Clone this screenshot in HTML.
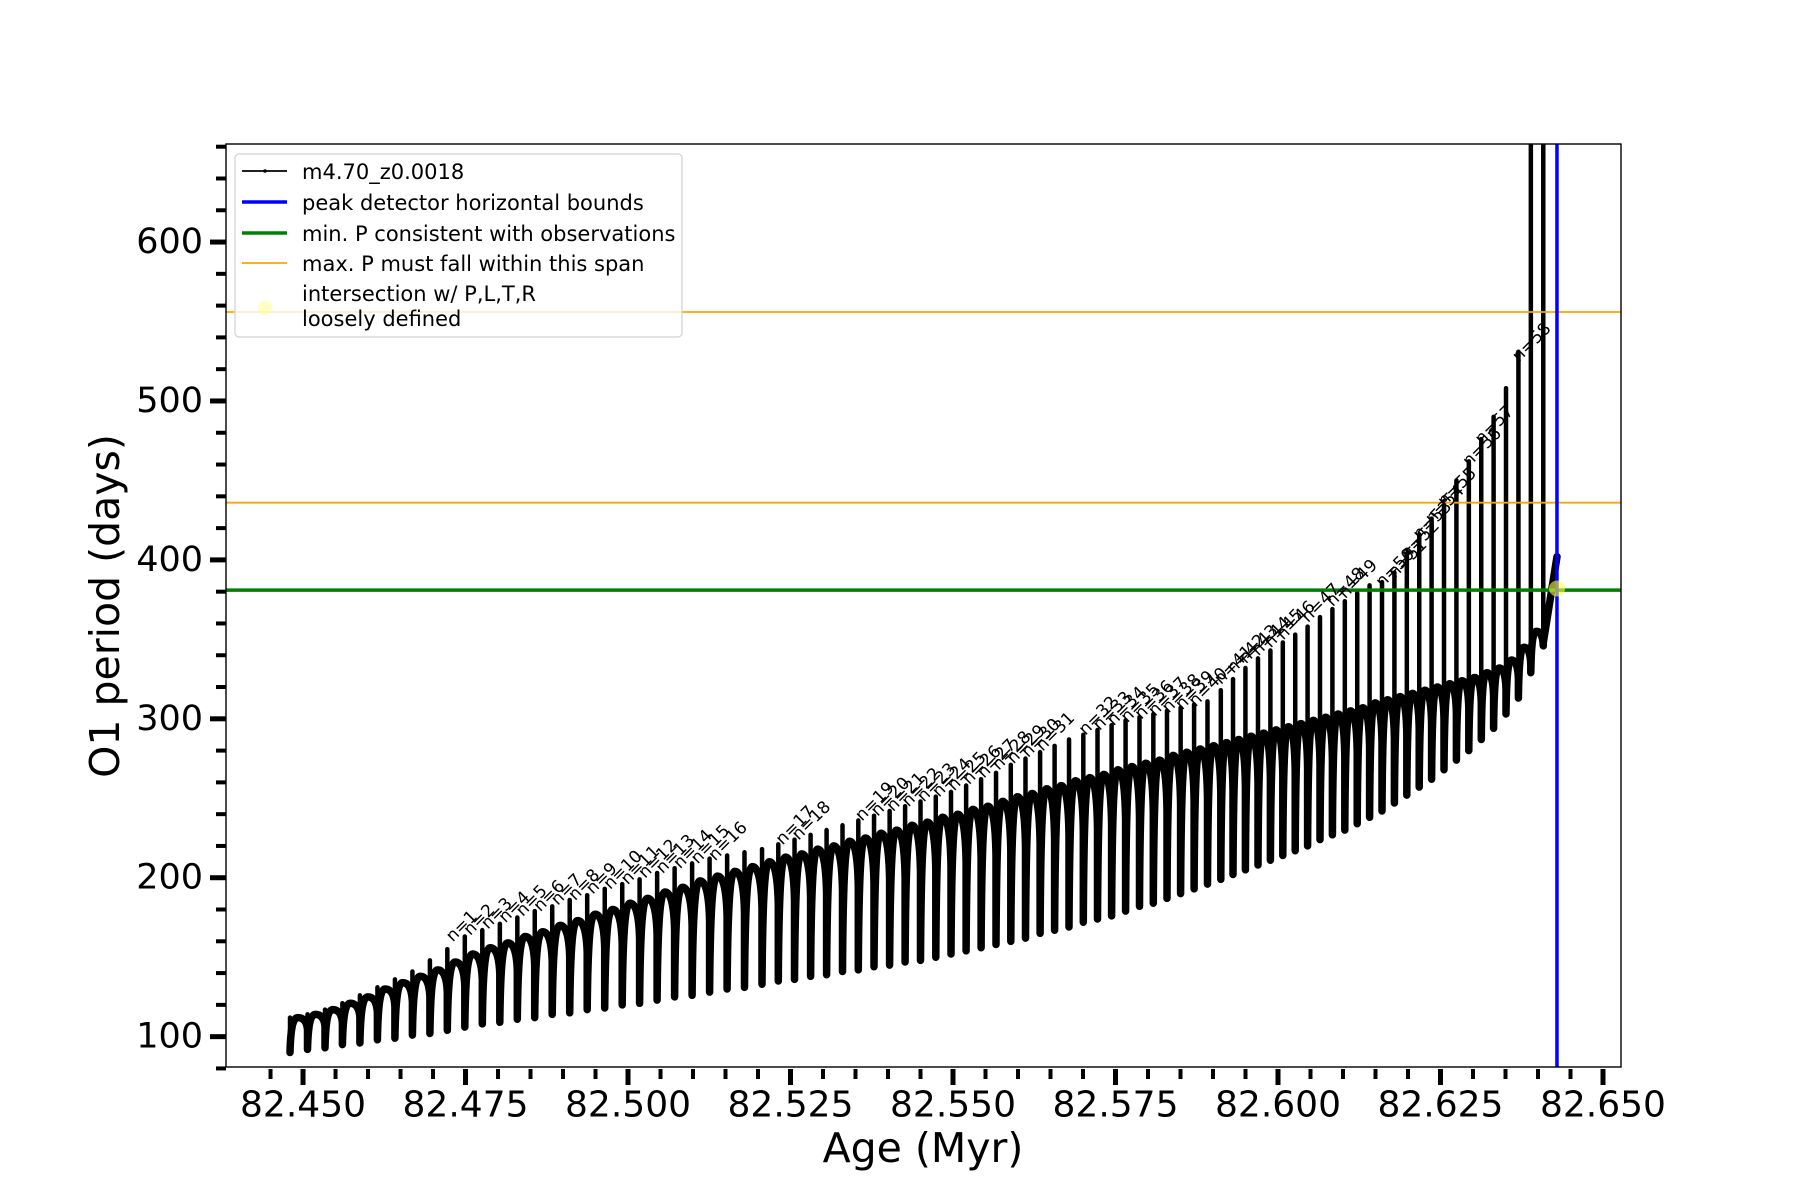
<!DOCTYPE html>
<html><head><meta charset="utf-8"><style>
html,body{margin:0;padding:0;background:#fff;}
svg{display:block;font-family:"DejaVu Sans","Liberation Sans",sans-serif;}
</style></head><body>
<svg id="fig" width="1800" height="1200" viewBox="0 0 1800 1200">
<defs><clipPath id="axclip"><rect x="226" y="144" width="1395" height="923"/></clipPath></defs>
<g id="plot" clip-path="url(#axclip)"></g>
<rect x="226" y="144" width="1395" height="923" fill="none" stroke="#000" stroke-width="1.4"/>
<g id="ticks"></g>
<text x="105" y="606" font-size="41" text-anchor="middle" dominant-baseline="central" transform="rotate(-90 105 606)">O1 period (days)</text>
<text x="923" y="1148" font-size="41" text-anchor="middle" dominant-baseline="central">Age (Myr)</text>
<g>
<rect x="235" y="154" width="447" height="183" rx="4" fill="rgba(255,255,255,0.8)" stroke="#d0d0d0" stroke-width="1.2"/>
<line x1="242" y1="171" x2="287" y2="171" stroke="#000" stroke-width="1.8"/>
<circle cx="265" cy="171" r="1.8" fill="#000"/>
<text x="302" y="172" font-size="21" dominant-baseline="central">m4.70_z0.0018</text>
<line x1="242" y1="202" x2="287" y2="202" stroke="#0000ff" stroke-width="3.5"/>
<text x="302" y="203" font-size="21" dominant-baseline="central">peak detector horizontal bounds</text>
<line x1="242" y1="233" x2="287" y2="233" stroke="#008000" stroke-width="3.5"/>
<text x="302" y="234" font-size="21" dominant-baseline="central">min. P consistent with observations</text>
<line x1="242" y1="263" x2="287" y2="263" stroke="#ffa500" stroke-width="1.8"/>
<text x="302" y="264" font-size="21" dominant-baseline="central">max. P must fall within this span</text>
<circle cx="265" cy="308" r="7" fill="#ffff80" opacity="0.5"/>
<text x="302" y="294" font-size="21" dominant-baseline="central">intersection w/ P,L,T,R</text>
<text x="302" y="319" font-size="21" dominant-baseline="central">loosely defined</text>
</g>
</svg>
<script>
const ages = [82.44800,82.45069,82.45338,82.45606,82.45875,82.46145,82.46414,82.46683,82.46952,82.47220,82.47489,82.47758,82.48028,82.48297,82.48565,82.48834,82.49103,82.49372,82.49642,82.49911,82.50178,82.50448,82.50717,82.50986,82.51255,82.51525,82.51792,82.52062,82.52312,82.52562,82.52809,82.53055,82.53300,82.53543,82.53785,82.54025,82.54263,82.54500,82.54735,82.54969,82.55202,82.55432,82.55662,82.55889,82.56115,82.56340,82.56563,82.56785,82.57005,82.57223,82.57440,82.57655,82.57869,82.58082,82.58292,82.58502,82.58709,82.58915,82.59120,82.59308,82.59499,82.59692,82.59883,82.60074,82.60265,82.60455,82.60646,82.60837,82.61028,82.61219,82.61409,82.61600,82.61791,82.61982,82.62173,82.62363,82.62554,82.62745,82.62936,82.63127,82.63317,82.63508,82.63699,82.63890,82.64081];
const lows = [90,92,93,95,96,98,99,101,102,104,106,108,109,111,112,114,115,117,118,120,121,123,125,126,128,130,131,133,135,136,138,139,141,142,144,145,147,148,150,152,154,156,158,160,162,165,167,169,172,174,176,179,182,184,187,190,193,196,199,202,205,208,211,214,217,220,224,227,230,234,238,242,247,252,257,262,268,274,280,287,294,303,313,329,348];
const tops = [112,114,117,121,125,130,134,138,142,147,152,156,159,163,166,170,173,177,180,184,187,191,194,198,201,204,207,210,213,215,218,220,223,225,228,230,233,235,238,240,243,245,248,251,253,256,258,261,263,265,268,270,272,274,277,279,281,283,285,287,289,291,293,295,297,299,301,303,305,307,310,312,314,316,318,320,322,324,326,329,332,337,345,355,362];
const highs = [112,114,117,121,126,131,136,141,148,155,163,167,171,175,179,182,186,189,193,196,199,203,206,209,212,214,216,218,221,224,227,230,233,236,239,242,245,248,251,254,258,262,266,271,275,279,283,287,290,293,296,299,301,303,305,307,309,311,318,325,332,338,343,348,353,358,364,369,374,379,384,386,392,404,416,426,437,450,462,476,490,508,531,700,700];
const finalAge = 82.64292;
const finalP = 402;
const labelN = [1,2,3,4,5,6,7,8,9,10,11,12,13,14,15,16,17,18,19,20,21,22,23,24,25,26,27,28,29,30,31,32,33,34,35,36,37,38,39,40,41,42,43,44,45,46,47,48,49,50,51,52,53,54,55,56,57,58];
const labelCycle = [10,11,12,13,14,15,16,17,18,19,20,21,22,23,24,25,29,30,34,35,36,37,38,39,40,41,42,43,44,45,46,49,50,51,52,53,54,55,56,57,59,60,61,62,63,64,66,68,69,72,73,74,75,76,77,79,80,83];
const labelP = [163,167,171,175,179,182,186,189,193,196,199,203,206,209,212,214,224,227,239,242,245,248,251,254,258,262,266,271,275,279,283,293,296,299,301,303,305,307,309,311,325,332,338,343,348,353,364,374,379,386,392,404,416,426,437,462,476,528];
const hLinesOrange = [556, 436];
const hLineGreen = 381;
const vLineBlue = 82.64292;
const intersection = [82.64292, 382];
const xMajor = [82.450,82.475,82.500,82.525,82.550,82.575,82.600,82.625,82.650];
const xMajorLabels = ["82.450","82.475","82.500","82.525","82.550","82.575","82.600","82.625","82.650"];
const yMajor = [100,200,300,400,500,600];
const yMajorLabels = ["100","200","300","400","500","600"];

const NS = "http://www.w3.org/2000/svg";
const X0=226, X1=1621, Y0=1067, Y1=144;
const XMIN=82.43815, XMAX=82.65277, YMIN=80.9, YMAX=661.7;
function X(a){return X0+(a-XMIN)/(XMAX-XMIN)*(X1-X0);}
function Y(p){return Y0-(p-YMIN)/(YMAX-YMIN)*(Y0-Y1);}
function mk(tag, attrs, parent){const e=document.createElementNS(NS,tag);for(const k in attrs)e.setAttribute(k,attrs[k]);parent.appendChild(e);return e;}
const plot=document.getElementById('plot');
const ticks=document.getElementById('ticks');

let d='M'+X(ages[0]).toFixed(1)+','+Y(lows[0]).toFixed(1);
for(let i=0;i<ages.length-1;i++){
  const x0=X(ages[i]), x1=X(ages[i+1]), w=x1-x0;
  const yl=Y(lows[i]), yt=Y(tops[i]);
  const h=yl-yt;
  d+=' C'+(x0+0.04*w).toFixed(1)+','+(yt+h*0.25).toFixed(1)+' '+(x0+0.18*w).toFixed(1)+','+yt.toFixed(1)+' '+(x0+0.45*w).toFixed(1)+','+yt.toFixed(1);
  d+=' C'+(x0+0.75*w).toFixed(1)+','+yt.toFixed(1)+' '+(x1-0.04*w).toFixed(1)+','+(yt+h*0.1).toFixed(1)+' '+x1.toFixed(1)+','+(yt+h*0.35).toFixed(1);
  d+=' L'+x1.toFixed(1)+','+Y(lows[i+1]).toFixed(1);
}
d+=' L'+X(finalAge).toFixed(1)+','+Y(finalP).toFixed(1);
const band=mk('path',{d:d,fill:'none',stroke:'#000','stroke-width':'7.5','stroke-linejoin':'round','stroke-linecap':'round'},plot);



for(let i=0;i<ages.length;i++){
  const s=mk('line',{x1:X(ages[i]),y1:Y(lows[i]),x2:X(ages[i]),y2:Y(highs[i]),stroke:'#000','stroke-width':'4.5','stroke-linecap':'round'},plot);
  
  
}

hLinesOrange.forEach(v=>{
  const l=mk('line',{x1:X0,x2:X1,y1:Y(v),y2:Y(v),stroke:'#ffa500','stroke-width':'1.8'},plot);
  
  
});
const g=mk('line',{x1:X0,x2:X1,y1:Y(hLineGreen),y2:Y(hLineGreen),stroke:'#008000','stroke-width':'3.5'},plot);


const b=mk('line',{x1:X(vLineBlue),x2:X(vLineBlue),y1:Y1,y2:Y0,stroke:'#0000ff','stroke-width':'3.5'},plot);


const c=mk('circle',{cx:X(intersection[0]),cy:Y(intersection[1]),r:'8',fill:'#ffff40',opacity:'0.6'},plot);



for(let k=0;k<labelN.length;k++){
  const x=X(ages[labelCycle[k]])-12, y=Y(labelP[k])+6;
  const t=mk('text',{x:x,y:y,'font-size':'17',transform:'rotate(-45 '+x+' '+y+')'},plot);
  t.textContent='n='+labelN[k];
  
  
}

for(let v=80; v<=660; v+=20){
  const major=yMajor.indexOf(v)>=0;
  const t=mk('line',{x1:X0-(major?16:10),x2:X0,y1:Y(v),y2:Y(v),stroke:'#000','stroke-width':major?'5':'4'},ticks);
  
  
}
yMajor.forEach((v,i)=>{
  const t=mk('text',{x:X0-23,y:Y(v),'font-size':'35','text-anchor':'end','dominant-baseline':'central'},ticks);
  t.textContent=yMajorLabels[i];
  
  
});
for(let k=0;k<=41;k++){
  const a=82.445+k*0.005;
  const major=(k%5)===1;
  const t=mk('line',{x1:X(a),x2:X(a),y1:Y0+2,y2:Y0+(major?18:12),stroke:'#000','stroke-width':major?'5':'4'},ticks);
  
  
}
xMajor.forEach((v,i)=>{
  const t=mk('text',{x:X(v),y:1105,'font-size':'36','text-anchor':'middle','dominant-baseline':'central'},ticks);
  t.textContent=xMajorLabels[i];
  
  
});
</script>
</body></html>
